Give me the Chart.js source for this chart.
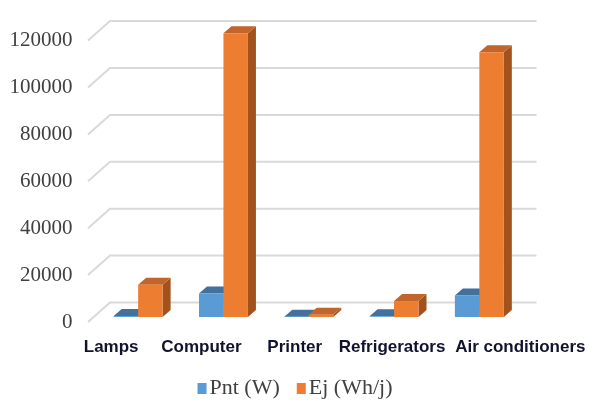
<!DOCTYPE html>
<html>
<head>
<meta charset="utf-8">
<script src="https://cdn.jsdelivr.net/npm/chart.js@4/dist/chart.umd.min.js"></script>
<style>
  html, body { margin: 0; padding: 0; background: #ffffff; }
  #wrap { width: 590px; height: 403px; }
</style>
</head>
<body>
<div id="wrap"><canvas id="chart" width="590" height="403"></canvas></div>
<script>
// data
const categories = ['Lamps', 'Computer', 'Printer', 'Refrigerators', 'Air conditioners'];
const pntValues = [400, 10000, 150, 300, 9200];
const ejValues = [13800, 121000, 1000, 6800, 112900];
const yTicks = [0, 20000, 40000, 60000, 80000, 100000, 120000];

// layout bits for the fake 3D look (Excel style)
const depth = { dx: 8, dy: -7 };          // bar depth
const wallFront = { dx: -7.5, dy: 5 };    // front edge of the floor/grid
const wallBack = { dx: 14.5, dy: -14.5 }; // back wall
const labelNudge = [-27, -22, -14, -2, 41];

const faceColors = [
    { top: '#41719c', side: '#3a6690' },
    { top: '#c1652a', side: '#a1521d' }
];

const serif = '"Liberation Serif", "Times New Roman", serif';

const pseudo3d = {
    id: 'pseudo3d',
    beforeDatasetsDraw(chart) {
        const ctx = chart.ctx;
        const area = chart.chartArea;
        const y = chart.scales.y;

        // grid: diagonal on the side wall + horizontal on back wall
        ctx.save();
        ctx.strokeStyle = '#d9d9d9';
        ctx.lineWidth = 2;
        yTicks.forEach(v => {
            const p = y.getPixelForValue(v);
            ctx.beginPath();
            ctx.moveTo(area.left + wallFront.dx, p + wallFront.dy);
            ctx.lineTo(area.left + wallBack.dx, p + wallBack.dy);
            ctx.lineTo(area.right + wallBack.dx, p + wallBack.dy);
            ctx.stroke();
        });
        ctx.restore();

        // top and side faces, the front face is drawn by chart.js after this
        ctx.save();
        chart.data.datasets.forEach((ds, i) => {
            const meta = chart.getDatasetMeta(i);
            meta.data.forEach(bar => {
                const l = bar.x - bar.width / 2;
                const r = bar.x + bar.width / 2;
                const t = bar.y;
                const b = bar.base;
                ctx.fillStyle = faceColors[i].side;
                ctx.beginPath();
                ctx.moveTo(r, t);
                ctx.lineTo(r + depth.dx, t + depth.dy);
                ctx.lineTo(r + depth.dx, b + depth.dy);
                ctx.lineTo(r, b);
                ctx.closePath();
                ctx.fill();
                ctx.fillStyle = faceColors[i].top;
                ctx.beginPath();
                ctx.moveTo(l, t);
                ctx.lineTo(l + depth.dx, t + depth.dy);
                ctx.lineTo(r + depth.dx, t + depth.dy);
                ctx.lineTo(r, t);
                ctx.closePath();
                ctx.fill();
            });
        });
        ctx.restore();
    },
    afterDraw(chart) {
        const ctx = chart.ctx;
        const x = chart.scales.x;
        const area = chart.chartArea;

        // category labels, Excel pushes them around so draw them here
        ctx.save();
        ctx.font = 'bold 17px "Liberation Sans", Arial, sans-serif';
        ctx.fillStyle = '#10122e';
        ctx.textAlign = 'center';
        ctx.textBaseline = 'middle';
        categories.forEach((c, i) => {
            ctx.fillText(c, x.getPixelForValue(i) + labelNudge[i], area.bottom + 30);
        });
        ctx.restore();

        // legend, centred under the whole picture
        ctx.save();
        ctx.font = '22px ' + serif;
        ctx.textBaseline = 'middle';
        const ds = chart.data.datasets;
        const widths = ds.map(d => ctx.measureText(d.label).width);
        const box = 9, gap = 3, between = 17;
        let total = 0;
        widths.forEach((w, i) => { total += box + gap + w + (i ? between : 0); });
        let cx = chart.width / 2 - total / 2;
        const cy = area.bottom + 71;
        ds.forEach((d, i) => {
            ctx.fillStyle = d.backgroundColor;
            ctx.fillRect(cx, cy - 5, box, 11);
            ctx.fillStyle = '#404040';
            ctx.fillText(d.label, cx + box + gap, cy);
            cx += box + gap + widths[i] + between;
        });
        ctx.restore();
    }
};

new Chart(document.getElementById('chart'), {
    type: 'bar',
    data: {
        labels: categories,
        datasets: [
            {
                label: 'Pnt (W)',
                data: pntValues,
                backgroundColor: '#5b9bd5',
                borderWidth: 0,
                clip: false
            },
            {
                label: 'Ej (Wh/j)',
                data: ejValues,
                backgroundColor: '#ed7d31',
                borderWidth: 0,
                clip: false
            }
        ]
    },
    options: {
        responsive: false,
        animation: false,
        events: [],
        layout: {
            padding: { top: 30, right: 68, bottom: 0, left: 0 }
        },
        datasets: {
            bar: {
                categoryPercentage: 0.574,
                barPercentage: 1
            }
        },
        plugins: {
            tooltip: { enabled: false },
            legend: { display: false }
        },
        scales: {
            x: {
                grid: { display: false },
                border: { display: false },
                ticks: { display: false },
                afterFit: (scale) => { scale.height = 86; }
            },
            y: {
                min: 0,
                max: 120000,
                grid: { display: false, drawTicks: false },
                border: { display: false },
                ticks: {
                    stepSize: 20000,
                    padding: 23,
                    labelOffset: 5,
                    color: '#404040',
                    font: { family: serif, size: 21 },
                    callback: (v) => String(v)
                },
                afterFit: (scale) => { scale.width = 95.5; }
            }
        }
    },
    plugins: [pseudo3d]
});
</script>
</body>
</html>
